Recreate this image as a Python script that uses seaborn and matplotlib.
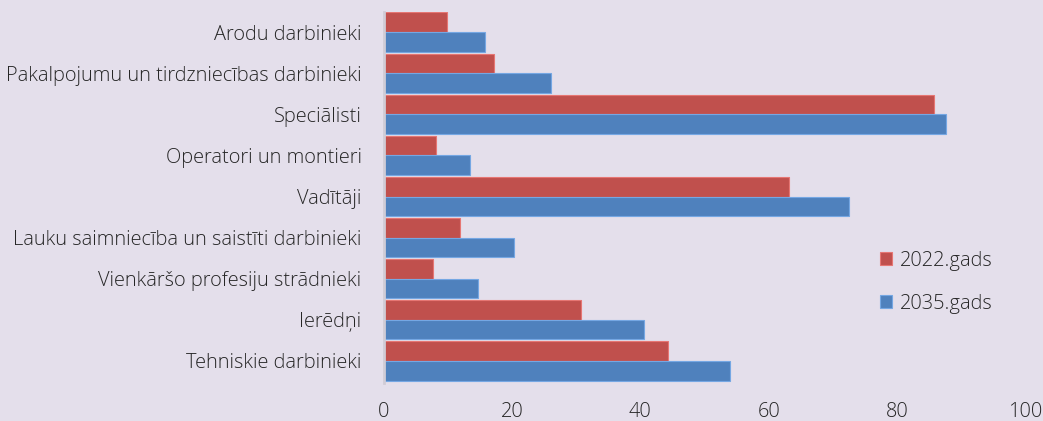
import matplotlib
matplotlib.use("Agg")
import matplotlib.pyplot as plt
import seaborn as sns
import pandas as pd

categories = [
    "Arodu darbinieki",
    "Pakalpojumu un tirdzniecības darbinieki",
    "Speciālisti",
    "Operatori un montieri",
    "Vadītāji",
    "Lauku saimniecība un saistīti darbinieki",
    "Vienkāršo profesiju strādnieki",
    "Ierēdņi",
    "Tehniskie darbinieki",
]
values_2022 = [9.8, 17.2, 85.8, 8.2, 63.2, 11.8, 7.6, 30.8, 44.3]
values_2035 = [15.7, 26.0, 87.6, 13.4, 72.5, 20.3, 14.7, 40.6, 54.0]
series = ["2022.gads", "2035.gads"]
xticks = [0, 20, 40, 60, 80, 100]

df = pd.DataFrame({
    "cat": categories * 2,
    "val": values_2022 + values_2035,
    "series": [series[0]] * len(categories) + [series[1]] * len(categories),
})

bg = "#E4DFEB"
sns.set_theme(style="white")
plt.rcParams["font.family"] = ["Open Sans", "DejaVu Sans"]
plt.rcParams["font.weight"] = "light"

fs = 14.4
fig = plt.figure(figsize=(10.43, 4.21), dpi=100, facecolor=bg)
ax = fig.add_axes([0.368, 0.0903, 0.615, 0.881])
ax.set_facecolor(bg)

sns.barplot(data=df, y="cat", x="val", hue="series", orient="h",
            order=categories, hue_order=series,
            palette=["#C0504D", "#4F81BD"], width=0.96,
            saturation=1, ax=ax, legend=True)
for p in ax.patches:
    fc = p.get_facecolor()
    p.set_edgecolor((min(1, fc[0] + 0.15), min(1, fc[1] + 0.15), min(1, fc[2] + 0.15), 1))
    p.set_linewidth(0.8)

ax.set_xlim(0, 100)
ax.set_ylim(8.54, -0.49)
ax.set_xticks(xticks)
ax.set_xticklabels([str(t) for t in xticks])
ax.set_xlabel("")
ax.set_ylabel("")
for s in ["top", "right", "bottom"]:
    ax.spines[s].set_visible(False)
ax.spines["left"].set_color("#D0CCD6")
ax.spines["left"].set_linewidth(2)
ax.tick_params(axis="x", length=0, pad=14, labelsize=fs, labelcolor="#262626")
ax.tick_params(axis="y", length=0, pad=16, labelsize=fs, labelcolor="#262626")
ax.grid(False)

handles, labels = ax.get_legend_handles_labels()
ax.legend(handles, labels, loc="center left", bbox_to_anchor=(0.826, 0.33),
          bbox_transform=fig.transFigure, frameon=False, fontsize=fs,
          handlelength=0.62, handleheight=0.62, handletextpad=0.42,
          labelspacing=1.15, labelcolor="#262626")

fig.savefig("out.png", dpi=100, facecolor=bg)
